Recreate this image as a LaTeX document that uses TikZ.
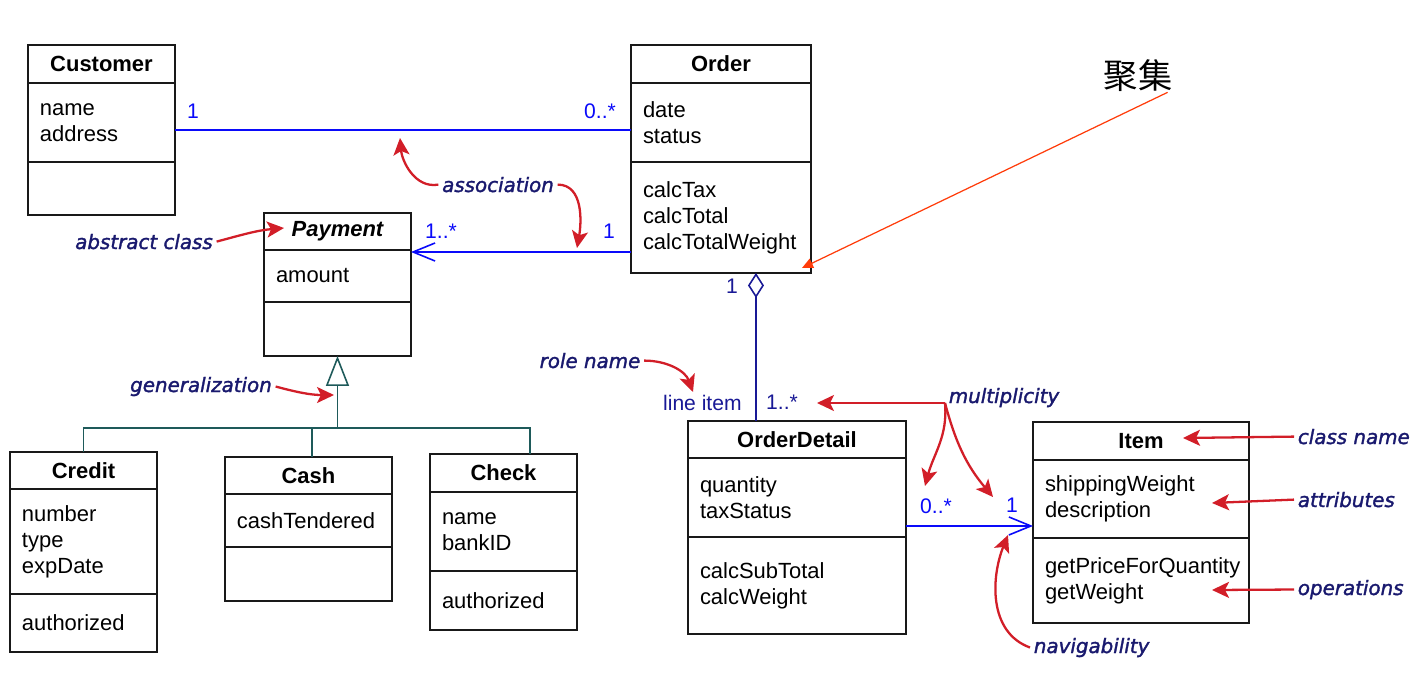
\documentclass[tikz,border=0pt]{standalone}
\usepackage{fontspec}
\newfontfamily\classfont{Liberation Sans}
\newfontfamily\notefont{DejaVu Sans}[ItalicFeatures={FakeBold=1.6}]
\newfontfamily\cjkfont{Noto Sans CJK SC}
\usepackage{tikz}
\usetikzlibrary{
  positioning,
  arrows.meta
}
\definecolor{ClassBorder}{RGB}{25,25,25}
\definecolor{AssocBlue}{RGB}{10,10,250}
\definecolor{AggrNavy}{RGB}{25,25,150}
\definecolor{GenTeal}{RGB}{30,90,90}
\definecolor{NoteNavy}{RGB}{25,25,110}
\definecolor{NoteRed}{RGB}{210,30,40}
\definecolor{AggrRed}{RGB}{255,60,10}
\tikzset{
  % class compartments
  umltitle/.style={
    draw=ClassBorder,
    line width=1pt,
    outer sep=0pt,
    inner sep=0pt,
    anchor=north west,
    align=center,
    font=\classfont\fontsize{12.5}{14.74}\selectfont\bfseries
  },
  umlpart/.style={
    draw=ClassBorder,
    line width=1pt,
    outer sep=0pt,
    inner xsep=0.24cm,
    inner ysep=0pt,
    align=left,
    font=\classfont\fontsize{12.5}{14.74}\selectfont,
    execute at begin node={\hyphenpenalty=10000\relax}
  },
  % connectors
  assoc/.style={draw=AssocBlue, line width=0.9pt},
  aggr/.style={draw=AggrNavy, line width=0.9pt},
  gen/.style={draw=GenTeal, line width=0.9pt},
  navtip/.style={-{Straight Barb[length=0.44cm, width=0.36cm]}},
  % multiplicities and role names
  mult/.style={
    font=\classfont\fontsize{12}{14}\selectfont,
    text=AssocBlue,
    inner sep=0pt,
    anchor=base
  },
  role/.style={mult, text=AggrNavy},
  % comments
  note/.style={
    font=\notefont\itshape\fontsize{11.3}{13}\selectfont,
    text=NoteNavy,
    inner sep=2pt
  },
  notearrow/.style={
    draw=NoteRed,
    line width=1.3pt,
    -{Stealth[length=0.34cm, width=0.32cm, inset=0.08cm]}
  }
}

\begin{document}
\begin{tikzpicture}[x=0.02cm, y=-0.02cm]
  \path[use as bounding box, fill=white] (0,0) rectangle (1427,690);

  % Customer
  \node[umltitle, minimum width=2.94cm, minimum height=0.76cm] (customer) at (28,45) {Customer};
  \node[umlpart, text width=2.46cm, minimum height=1.58cm, below=0pt of customer] (customer-a) {name\\address};
  \node[umlpart, text width=2.46cm, minimum height=1.06cm, below=0pt of customer-a] (customer-o) {};

  % Order
  \node[umltitle, minimum width=3.6cm, minimum height=0.76cm] (order) at (631,45) {Order};
  \node[umlpart, text width=3.12cm, minimum height=1.58cm, below=0pt of order] (order-a) {date\\status};
  \node[umlpart, text width=3.12cm, minimum height=2.22cm, below=0pt of order-a] (order-o) {calcTax\\calcTotal\\calcTotalWeight};

  % Payment
  \node[umltitle, minimum width=2.94cm, minimum height=0.74cm] (payment) at (264,213) {\itshape Payment};
  \node[umlpart, text width=2.46cm, minimum height=1.04cm, below=0pt of payment] (payment-a) {amount};
  \node[umlpart, text width=2.46cm, minimum height=1.08cm, below=0pt of payment-a] (payment-o) {};

  % Credit
  \node[umltitle, minimum width=2.94cm, minimum height=0.74cm] (credit) at (10,452) {Credit};
  \node[umlpart, text width=2.46cm, minimum height=2.1cm, below=0pt of credit] (credit-a) {number\\type\\expDate};
  \node[umlpart, text width=2.46cm, minimum height=1.16cm, below=0pt of credit-a] (credit-o) {authorized};

  % Cash
  \node[umltitle, minimum width=3.34cm, minimum height=0.74cm] (cash) at (225,457) {Cash};
  \node[umlpart, text width=2.86cm, minimum height=1.06cm, below=0pt of cash] (cash-a) {cashTendered};
  \node[umlpart, text width=2.86cm, minimum height=1.08cm, below=0pt of cash-a] (cash-o) {};

  % Check
  \node[umltitle, minimum width=2.94cm, minimum height=0.76cm] (check) at (430,454) {Check};
  \node[umlpart, text width=2.46cm, minimum height=1.58cm, below=0pt of check] (check-a) {name\\bankID};
  \node[umlpart, text width=2.46cm, minimum height=1.18cm, below=0pt of check-a] (check-o) {authorized};

  % OrderDetail
  \node[umltitle, minimum width=4.36cm, minimum height=0.74cm] (orderdetail) at (688,421) {OrderDetail};
  \node[umlpart, text width=3.88cm, minimum height=1.58cm, below=0pt of orderdetail] (orderdetail-a) {quantity\\taxStatus};
  \node[umlpart, text width=3.88cm, minimum height=1.94cm, below=0pt of orderdetail-a] (orderdetail-o) {calcSubTotal\\calcWeight};

  % Item
  \node[umltitle, minimum width=4.32cm, minimum height=0.76cm] (item) at (1033,422) {Item};
  \node[umlpart, text width=3.84cm, minimum height=1.56cm, below=0pt of item] (item-a) {shippingWeight\\description};
  \node[umlpart, text width=3.84cm, minimum height=1.7cm, below=0pt of item-a] (item-o) {getPriceForQuantity\\getWeight};

  % association Customer - Order
  \draw[assoc] ([yshift=-0.15cm]customer-a.east) -- ([yshift=-0.15cm]order-a.west);
  \node[mult] (custMult) at (193,118) {1};
  \node[mult] (orderMult) at (600,118) {0..*};

  % association Order -> Payment
  \coordinate (payIn) at ([yshift=-0.04cm]payment-a.north east);
  \draw[assoc, navtip] (order-o.west |- payIn) -- (payIn);
  \node[mult] (payMult) at (441,238) {1..*};
  \node[mult] (orderPayMult) at (609,238) {1};

  % aggregation Order <>- OrderDetail
  \coordinate (aggTop) at ([xshift=0.7cm]order-o.south);
  \draw[aggr, {Diamond[open, length=0.5cm, width=0.32cm]}-] (aggTop) -- (aggTop |- orderdetail.north);
  \node[role] (aggMult) at (732,293) {1};
  \node[role, anchor=base east] (lineItem) at (742,410) {line item};
  \node[role] (detailMult) at (782,409) {1..*};

  % association OrderDetail -> Item
  \coordinate (itemIn) at ([yshift=-0.54cm]item-a.west);
  \draw[assoc, navtip] (orderdetail-a.east |- itemIn) -- (itemIn);
  \node[mult] (detailItemMult) at (936,513) {0..*};
  \node[mult] (itemMult) at (1012,512) {1};

  % generalization
  \coordinate (genBus) at ([yshift=-1.44cm]payment-o.south);
  \coordinate (cashTop) at ([xshift=0.07cm]cash.north);
  \coordinate (checkTop) at ([xshift=0.53cm]check.north);
  \draw[gen, -{Triangle[open, length=0.6cm, width=0.46cm]}] (genBus) -- (payment-o.south);
  \draw[gen] (credit.north) |- (checkTop |- genBus) -- (checkTop);
  \draw[gen] (cashTop) -- (cashTop |- genBus);

  % comments
  \coordinate (assocTipA) at (400,138);
  \coordinate (assocTipB) at (577,248);
  \coordinate (abstractTip) at (284,228);
  \coordinate (genTip) at (334,395);
  \coordinate (roleTip) at (693,392);
  \coordinate (multTipA) at (817,403);
  \coordinate (multTipB) at (925,486);
  \coordinate (multTipC) at (993,497);
  \coordinate (navTip) at (1008,535);
  \coordinate (nameTip) at (1183,438);
  \coordinate (attrTip) at (1212,503);
  \coordinate (opsTip) at (1212,590);
  \coordinate (aggrTip) at (802,268);

  \node[note, anchor=base] (assocNote) at (498,192) {association};
  \node[note, anchor=base] (abstractNote) at (144,249) {abstract class};
  \node[note, anchor=base] (genNote) at (201,392) {generalization};
  \node[note, anchor=base] (roleNote) at (590,368) {role name};
  \node[note, anchor=base west] (multNote) at (945,403) {multiplicity};
  \node[note, anchor=base west] (navNote) at (1030,653) {navigability};
  \node[note, anchor=base west] (nameNote) at (1294,444) {class name};
  \node[note, anchor=base west] (attrNote) at (1294,507) {attributes};
  \node[note, anchor=base west] (opsNote) at (1294,595) {operations};

  \draw[notearrow] (assocNote.west) to[out=190, in=-85] (assocTipA);
  \draw[notearrow] (assocNote.east) to[out=0, in=80] (assocTipB);
  \draw[notearrow] (abstractNote.east) to[out=15, in=185] (abstractTip);
  \draw[notearrow] (genNote.east) to[out=-15, in=180] (genTip);
  \draw[notearrow] (roleNote.east) to[out=0, in=110] (roleTip);
  \draw[notearrow] (multNote.base west) -- (multTipA);
  \draw[notearrow] (multNote.base west) to[out=-85, in=75] (multTipB);
  \draw[notearrow] (multNote.base west) to[out=-75, in=130] (multTipC);
  \draw[notearrow] (navNote.west) to[out=160, in=248] (navTip);
  \draw[notearrow] (nameNote.west) -- (nameTip);
  \draw[notearrow] (attrNote.west) -- (attrTip);
  \draw[notearrow] (opsNote.west) -- (opsTip);

  % aggregation label
  \node[font=\cjkfont\fontsize{19.5}{22}\selectfont, inner sep=0pt] (aggrNote) at (1138,76) {聚集};
  \draw[draw=AggrRed, line width=0.7pt, -{Triangle[length=0.22cm, width=0.2cm]}] ([xshift=-0.1cm]aggrNote.south east) -- (aggrTip);
\end{tikzpicture}
\end{document}
